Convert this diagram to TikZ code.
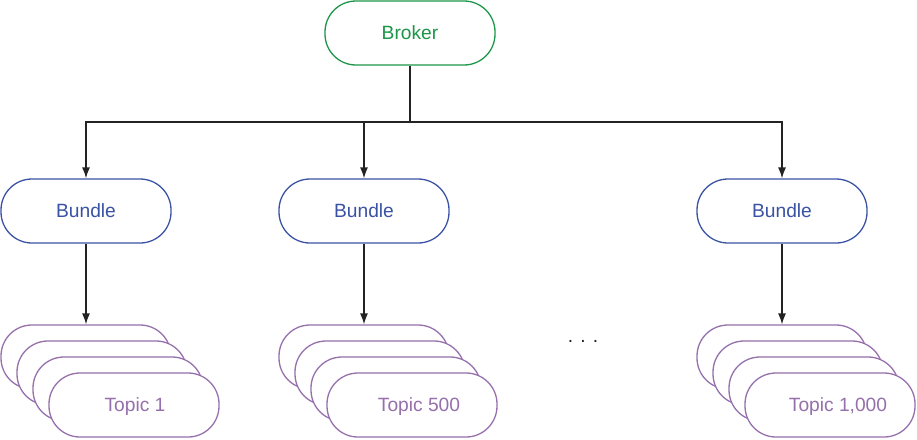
\documentclass[tikz,border=0pt]{standalone}
\usepackage{fontspec}
\setmainfont{Liberation Sans}
\usetikzlibrary{arrows.meta}

\definecolor{brokergreen}{RGB}{28,150,72}
\definecolor{bundleblue}{RGB}{58,82,164}
\definecolor{topicpurple}{RGB}{150,112,172}
\definecolor{wire}{RGB}{35,35,35}

\begin{document}
\begin{tikzpicture}[x=1pt,y=-1pt,
                    every node/.style={font=\fontsize{19.2}{23}\selectfont},
                    pill/.style={draw,fill=white,line width=1.3pt,rounded corners=31pt,
                                 minimum width=170pt,minimum height=64pt,inner sep=0pt},
                    broker/.style={pill,draw=brokergreen,text=brokergreen},
                    bundle/.style={pill,draw=bundleblue,text=bundleblue},
                    topic/.style={pill,draw=topicpurple,text=topicpurple},
                    link/.style={draw=wire,line width=1.3pt},
                    arrow/.style={link,-{Latex[length=11pt,width=8pt]}}]
  \useasboundingbox (0,0) rectangle (917,439);

  \node[broker] (broker)   at (410,33)  {Broker};
  \node[bundle] (bundle-a) at (86,211)  {Bundle};
  \node[bundle] (bundle-b) at (364,211) {Bundle};
  \node[bundle] (bundle-c) at (782,211) {Bundle};

  \coordinate (split) at (410,122);
  \draw[link]  (broker) -- (split);
  \draw[arrow] (split) -| (bundle-a);
  \draw[arrow] (split) -| (bundle-b);
  \draw[arrow] (split) -| (bundle-c);

  % stacks of topics, the front one carries the label
  \foreach \n/\x/\dx/\label in {a/86/1/{Topic 1},b/364/7/{Topic 500},c/782/8/{Topic 1,000}} {
    \foreach \k in {0,1,2,3} {
      \node[topic] (topic-\n-\k) at (\x+16*\k,357+16*\k) {};
    }
    \node[text=topicpurple] (label-\n) at ([xshift=\dx pt,yshift=-1.5pt]topic-\n-3) {\label};
    \draw[arrow] (bundle-\n) -- (topic-\n-0);
  }

  \node[text=wire] (dots) at (583,341) {. . .};
\end{tikzpicture}
\end{document}
